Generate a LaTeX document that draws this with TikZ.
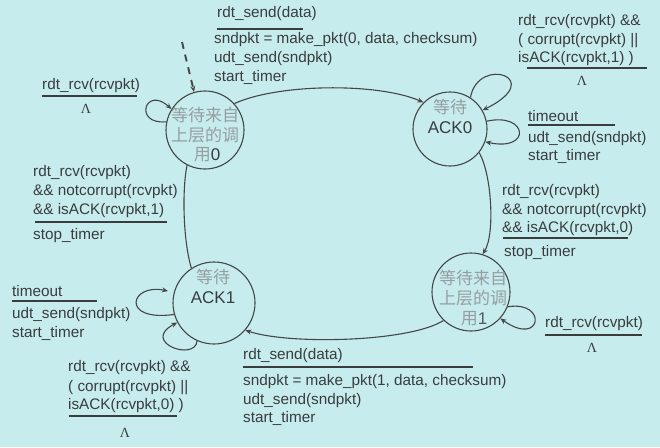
\documentclass[tikz,border=0pt]{standalone}
\usepackage{fontspec}
\setmainfont{Liberation Sans}
\newfontfamily\cjk{Noto Sans CJK SC}
\newfontfamily\lamfont{Liberation Serif}
\usetikzlibrary{arrows.meta}
\definecolor{bg}{RGB}{198,236,238}
\definecolor{ink}{RGB}{58,60,62}
\definecolor{lineink}{RGB}{68,70,72}
\definecolor{cjkgray}{RGB}{150,158,160}
\begin{document}
\begin{tikzpicture}[x=1pt,y=-1pt,
  lbl/.style={inner sep=0pt, anchor=base west, text=ink, font=\fontsize{15.3}{19}\selectfont},
  lam/.style={inner sep=0pt, anchor=base, text=ink, font=\lamfont\fontsize{14}{16}\selectfont},
  rulel/.style={draw=ink, line width=1.4pt},
  state/.style={circle, draw=lineink, line width=1.1pt, inner sep=0pt},
  cj/.style={inner sep=0pt, anchor=center, text=cjkgray, font=\cjk\fontsize{17}{18}\selectfont},
  stt/.style={inner sep=0pt, anchor=center, text=ink, font=\fontsize{17}{18}\selectfont},
  edge/.style={draw=lineink, line width=1.1pt, -{Stealth[length=6pt,width=5pt]}},
  initedge/.style={draw=lineink, line width=1.9pt, dash pattern=on 7pt off 6pt, -{Stealth[length=6pt,width=5pt]}},
]
\useasboundingbox[fill=bg] (0,0) rectangle (660,447);

% states
\node[state, minimum size=78pt] (w0) at (205,130) {};
\node[state, minimum size=74pt] (ack0) at (450,129) {};
\node[state, minimum size=82pt] (ack1) at (214,303) {};
\node[state, minimum size=78pt] (w1) at (471,292) {};

% state texts
\node[cj] (w0a) at (205,115) {等待来自};
\node[cj] (w0b) at (205,135) {上层的调};
\node[cj] (w0c) at (207,155) {用\textcolor{ink}{\fontspec{Liberation Sans}0}};
\node[cj] (ack0a) at (450,107) {等待};
\node[stt] (ack0b) at (450,128) {ACK0};
\node[cj] (ack1a) at (213,277) {等待};
\node[stt] (ack1b) at (213,298) {ACK1};
\node[cj] (w1a) at (473,278) {等待来自};
\node[cj] (w1b) at (473,298) {上层的调};
\node[cj] (w1c) at (474,319) {用\textcolor{ink!85}{\fontspec{Liberation Sans}1}};

% transitions
\coordinate (init) at (182,42);
\draw[initedge] (init) -- (w0.106);
\draw[edge] (w0.42) .. controls (280,83) and (380,83) .. (ack0.135);
\draw[edge] (ack0.-39) .. controls (492,175) and (495,235) .. (w1.73);
\draw[edge] (w1.226) .. controls (410,342) and (290,345) .. (ack1.-41);
\draw[draw=lineink, line width=1.1pt] (ack1.123) .. controls (183,240) and (182,190) .. (w0.243);

% self loops
\draw[edge] (w0.168) .. controls (133,125) and (145,85) .. (w0.148);
\draw[edge] (ack0.57) .. controls (478,55) and (548,78) .. (ack0.30);
\draw[edge] (ack0.12) .. controls (528,112) and (532,152) .. (ack0.-20);
\draw[edge, shorten >=6pt] (ack1.196) .. controls (120,322) and (130,283) .. (ack1.165);
\draw[edge] (ack1.246) .. controls (195,362) and (140,342) .. (ack1.208);
\draw[edge] (w1.-22) .. controls (548,300) and (542,348) .. (w1.-42);

% top label
\node[lbl] (t1) at (217,17) {rdt\_send(data)};
\draw[rulel] (217,29) -- (303,29);
\node[lbl] (t2) at (214,43) {sndpkt = make\_pkt(0, data, checksum)};
\node[lbl] (t3) at (214,62) {udt\_send(sndpkt)};
\node[lbl] (t4) at (214,81) {start\_timer};

% left top label
\node[lbl] (lt1) at (42,89) {rdt\_rcv(rcvpkt)};
\draw[rulel] (42,96) -- (137,96);
\node[lam] (lt2) at (86,113) {Λ};

% right top label
\node[lbl] (rt1) at (518,25) {rdt\_rcv(rcvpkt) \&\&};
\node[lbl] (rt2) at (518,44) {( corrupt(rcvpkt) ||};
\node[lbl] (rt3) at (518,62) {isACK(rcvpkt,1) )};
\draw[rulel] (527,68) -- (647,68);
\node[lam] (rt4) at (582,85) {Λ};

% right timeout
\node[lbl] (rto1) at (528,121) {timeout};
\draw[rulel] (528,125) -- (615,125);
\node[lbl] (rto2) at (528,142) {udt\_send(sndpkt)};
\node[lbl] (rto3) at (528,160) {start\_timer};

% right middle
\node[lbl] (rm1) at (502,195) {rdt\_rcv(rcvpkt)};
\node[lbl] (rm2) at (502,214) {\&\& notcorrupt(rcvpkt)};
\node[lbl] (rm3) at (502,232) {\&\& isACK(rcvpkt,0)};
\draw[rulel] (503,238) -- (628,238);
\node[lbl] (rm4) at (504,256) {stop\_timer};

% left middle
\node[lbl] (lm1) at (33,176) {rdt\_rcv(rcvpkt)};
\node[lbl] (lm2) at (33,195) {\&\& notcorrupt(rcvpkt)};
\node[lbl] (lm3) at (33,214) {\&\& isACK(rcvpkt,1)};
\draw[rulel] (35,222) -- (167,222);
\node[lbl] (lm4) at (33,239) {stop\_timer};

% left timeout
\node[lbl] (lto1) at (12,296) {timeout};
\draw[rulel] (12,301) -- (97,301);
\node[lbl] (lto2) at (12,318) {udt\_send(sndpkt)};
\node[lbl] (lto3) at (12,337) {start\_timer};

% bottom left
\node[lbl] (bl1) at (68,371) {rdt\_rcv(rcvpkt) \&\&};
\node[lbl] (bl2) at (68,391) {( corrupt(rcvpkt) ||};
\node[lbl] (bl3) at (68,409) {isACK(rcvpkt,0) )};
\draw[rulel] (69,416) -- (177,416);
\node[lam] (bl4) at (125,437) {Λ};

% bottom
\node[lbl] (b1) at (243,359) {rdt\_send(data)};
\draw[rulel] (243,367) -- (473,367);
\node[lbl] (b2) at (243,385) {sndpkt = make\_pkt(1, data, checksum)};
\node[lbl] (b3) at (243,404) {udt\_send(sndpkt)};
\node[lbl] (b4) at (243,422) {start\_timer};

% right bottom
\node[lbl] (rb1) at (545,327) {rdt\_rcv(rcvpkt)};
\draw[rulel] (545,335) -- (642,335);
\node[lam] (rb2) at (592,352) {Λ};
\end{tikzpicture}
\end{document}
